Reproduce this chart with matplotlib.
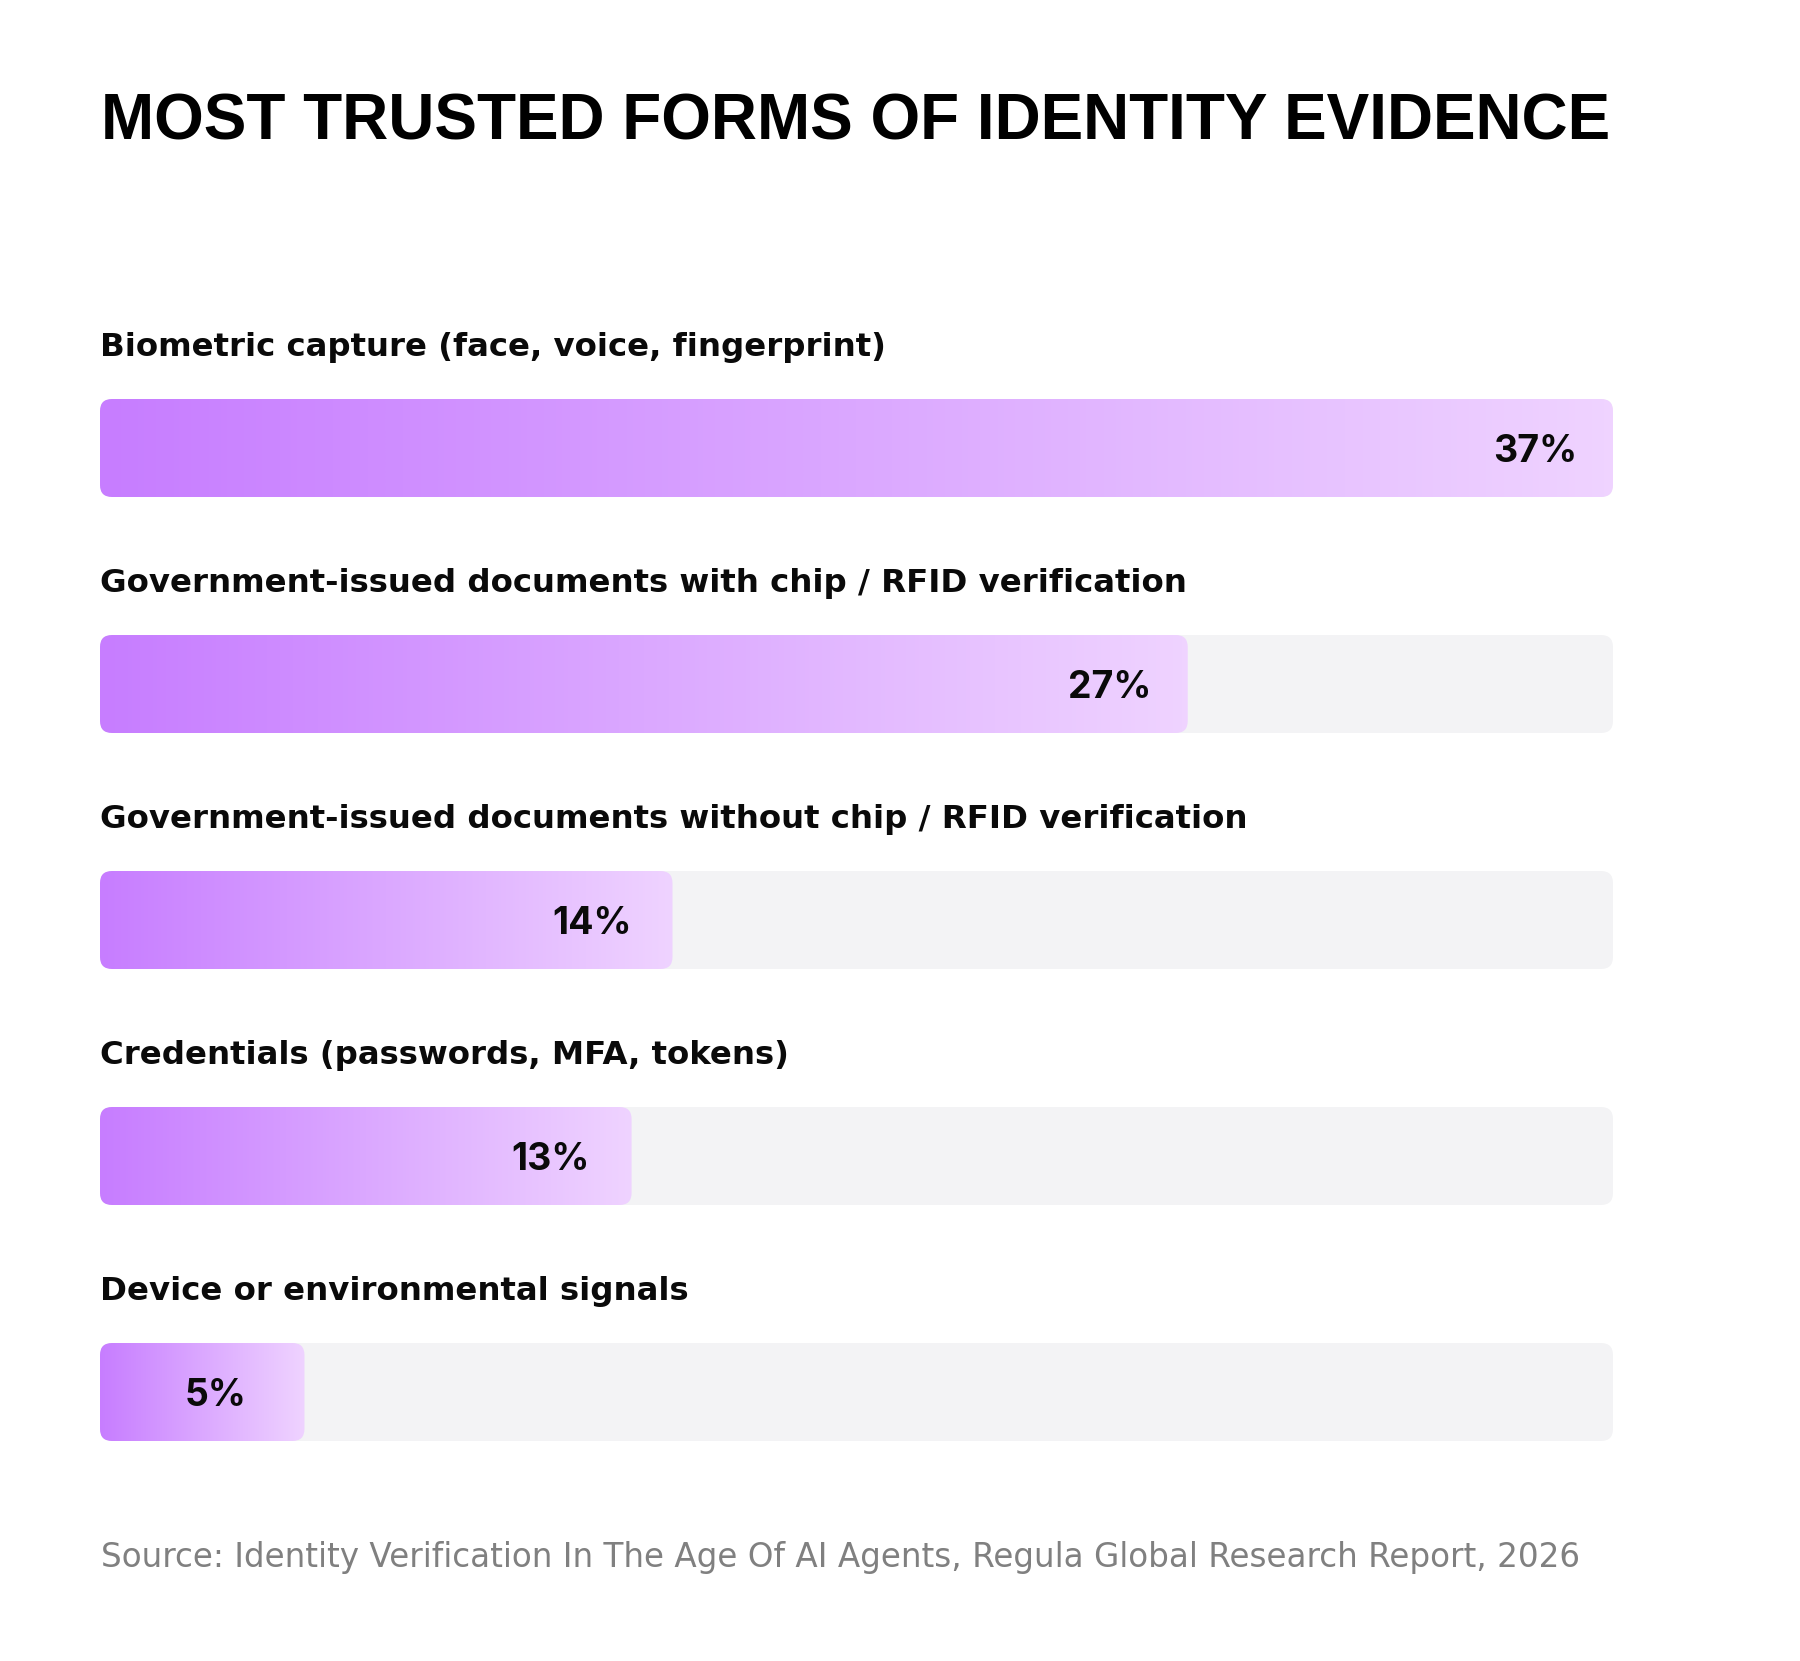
import matplotlib
matplotlib.use("Agg")
import matplotlib.pyplot as plt
import numpy as np
from matplotlib.patches import FancyBboxPatch
from matplotlib.colors import LinearSegmentedColormap

title = "MOST TRUSTED FORMS OF IDENTITY EVIDENCE"
categories = [
    "Biometric capture (face, voice, fingerprint)",
    "Government-issued documents with chip / RFID verification",
    "Government-issued documents without chip / RFID verification",
    "Credentials (passwords, MFA, tokens)",
    "Device or environmental signals",
]
values = [37, 26.6, 14, 13, 5]
value_labels = ["37%", "27%", "14%", "13%", "5%"]
source = "Source: Identity Verification In The Age Of AI Agents, Regula Global Research Report, 2026"

W, H = 1800, 1661
fig = plt.figure(figsize=(W / 100, H / 100), dpi=100)
fig.patch.set_facecolor("white")

left_px, right_px = 100, 1613
top_px, bot_px = 330, 1510
ax = fig.add_axes([left_px / W, 1 - bot_px / H, (right_px - left_px) / W, (bot_px - top_px) / H])
xmax = 37
ax.set_xlim(0, xmax)
ax.set_ylim(len(categories) - 0.5, -0.5)
ax.axis("off")

px_x = xmax / (right_px - left_px)
px_y = 1 / 236.0
bar_h = 98 * px_y
r = 12 * px_x
aspect = (12 * px_y) / r

cmap = LinearSegmentedColormap.from_list("g", ["#c77dff", "#efd3ff"])
grad = np.linspace(0, 1, 256).reshape(1, -1)

label_font = ["DejaVu Sans"]
pct_font = ["Inter", "DejaVu Sans"]

for i, (cat, v, lab) in enumerate(zip(categories, values, value_labels)):
    y0 = i - bar_h / 2
    track = FancyBboxPatch((0, y0), xmax, bar_h,
                           boxstyle=f"round,pad=0,rounding_size={r}",
                           mutation_aspect=aspect, fc="#f3f3f5", ec="none", zorder=1)
    ax.add_patch(track)
    bar = FancyBboxPatch((0, y0), v, bar_h,
                         boxstyle=f"round,pad=0,rounding_size={r}",
                         mutation_aspect=aspect, fc="none", ec="none", zorder=2)
    ax.add_patch(bar)
    im = ax.imshow(grad, cmap=cmap, aspect="auto", extent=(0, v, i + bar_h / 2, i - bar_h / 2),
                   zorder=2, interpolation="bicubic")
    im.set_clip_path(bar)
    ax.text(0, i - 92 * px_y, cat, ha="left", va="baseline", fontsize=23.3,
            fontweight="bold", family=label_font, color="#0a0a0a")
    ax.text(v - 120 * px_x, i + 14 * px_y, lab, ha="left", va="baseline", fontsize=27,
            fontweight="bold", family=pct_font, color="#0a0a0a", zorder=3)

fig.text(101 / W, 1 - 139 / H, title, ha="left", va="baseline", fontsize=46,
         fontweight="bold", family=["Liberation Sans", "DejaVu Sans"], color="#000000")
fig.text(101 / W, 1 - 1567 / H, source, ha="left", va="baseline", fontsize=23.5,
         family=["DejaVu Sans"], color="#808080")

fig.savefig("out.png", dpi=100, facecolor="white")
